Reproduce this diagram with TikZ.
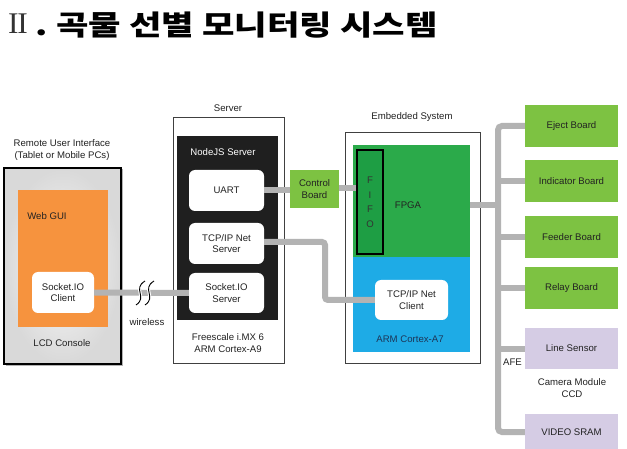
\documentclass[tikz,border=0pt]{standalone}
\usepackage{fontspec}
\setmainfont{Liberation Sans}
\newfontfamily\krfont{Noto Sans CJK KR}
\newfontfamily\romfont{Liberation Serif}
\usetikzlibrary{calc,shadows}
\definecolor{lgreen}{HTML}{7DC242}
\definecolor{fpgagreen}{HTML}{2BAA4A}
\definecolor{fifogreen}{HTML}{1E9E44}
\definecolor{armblue}{HTML}{1EABE6}
\definecolor{orangegui}{HTML}{F6933E}
\definecolor{lpurple}{HTML}{D5CCE4}
\definecolor{conngray}{HTML}{B3B3B3}
\definecolor{navytext}{HTML}{1D3557}
\definecolor{txt}{HTML}{222222}
\tikzset{
  lbl/.style={font=\fontsize{9.6}{11.5}\selectfont, text=txt, align=center, inner sep=0pt},
  wbox/.style={fill=white, rounded corners=6pt, minimum width=75pt, minimum height=41pt, lbl},
  board/.style={fill=lgreen, minimum width=93pt, minimum height=42pt, lbl},
  pboard/.style={fill=lpurple, minimum width=93pt, minimum height=41pt, lbl},
  frame/.style={draw=black!75, line width=0.8pt, fill=white, inner sep=0pt},
  conn/.style={draw=conngray, line width=6pt},
}
\begin{document}
\begin{tikzpicture}[x=1pt,y=-1pt]
\useasboundingbox[fill=white] (0,0) rectangle (627,449);

% title
\node[anchor=west, inner sep=0pt, font=\romfont\fontsize{30}{32}\selectfont, text=black!80, xscale=1.05] (t1) at (8,24) {I\kern-1.2pt I};
\node[anchor=west, inner sep=0pt, font=\krfont\bfseries\fontsize{28}{32}\selectfont, xscale=1.26] (t2) at (35,25) {.\hspace{7pt}곡물 선별 모니터링 시스템};

% remote user interface
\node[lbl] (rlbl) at (62,150) {Remote User Interface\\(Tablet or Mobile PCs)};
\node[draw=black, line width=2.5pt, inner color=white!98!black, outer color=black!15,
      minimum width=117pt, minimum height=196pt,
      drop shadow={shadow xshift=1.5pt, shadow yshift=-1.5pt, opacity=0.6}] (remote) at (62.5,266) {};
\node[fill=orangegui, minimum width=90pt, minimum height=137pt] (gui) at (63,258.5) {};
\node[lbl] (guilbl) at (47,216) {Web GUI};
\node[wbox, minimum width=62pt] (sockcli) at (63,292.5) {Socket.IO\\Client};
\node[lbl] (lcd) at (62,343) {LCD Console};

% server
\node[lbl] (srvlbl) at (228,108) {Server};
\node[frame, minimum width=111pt, minimum height=246pt] (server) at (228.5,240) {};
\node[fill=black!88, minimum width=101pt, minimum height=184pt] (node) at (227.5,228) {};
\node[lbl, text=white] (nodelbl) at (223,152) {NodeJS Server};
\node[wbox] (uart) at (226.5,190.5) {UART};
\node[wbox] (tcpsrv) at (226.5,243.5) {TCP/IP Net\\Server};
\node[wbox, minimum height=40pt] (socksrv) at (226.5,293) {Socket.IO\\Server};
\node[lbl] (imx) at (228,343) {Freescale i.MX 6\\ARM Cortex-A9};

% control board
\node[fill=lgreen, minimum width=49pt, minimum height=38pt, lbl] (ctrl) at (314.5,189) {Control\\Board};

% embedded system
\node[lbl] (emblbl) at (412,117) {Embedded System};
\node[frame, minimum width=135pt, minimum height=231pt] (emb) at (412.5,247.5) {};
\node[fill=fpgagreen, minimum width=117pt, minimum height=112pt] (fpga) at (411.5,201) {};
\node[fill=armblue, minimum width=117pt, minimum height=95pt] (arm) at (411.5,304.5) {};
\node[draw=black, line width=1.3pt, fill=fifogreen, minimum width=26pt, minimum height=104pt] (fifo) at (370,202) {};
\node[lbl, text=black!80] (fifolbl) at (370,202) {F\\[3pt]I\\[3pt]F\\[3pt]O};
\node[lbl] (fpgalbl) at (408,205) {FPGA};
\node[wbox, minimum width=73pt, minimum height=40pt] (tcpcli) at (411.5,300) {TCP/IP Net\\Client};
\node[lbl, text=navytext] (armlbl) at (410,339) {ARM Cortex-A7};

% boards
\node[board] (eject) at (571.5,126) {Eject Board};
\node[board] (indic) at (571.5,181.5) {Indicator Board};
\node[board] (feeder) at (571.5,237) {Feeder Board};
\node[board] (relay) at (571.5,288) {Relay Board};
\node[pboard] (line) at (571.5,348.5) {Line Sensor};
\node[lbl] (cam) at (572,388) {Camera Module\\CCD};
\node[pboard, minimum height=36pt] (sram) at (571.5,432) {VIDEO SRAM};
\node[lbl, anchor=west] (afe) at (503,362) {AFE};

% connectors
\draw[conn] (sockcli.east) -- (socksrv.west);
\draw[conn] (uart.east) -- (uart.east -| ctrl.west);
\draw[conn] ([yshift=1pt]ctrl.east) -- ([yshift=1pt]ctrl.east -| fifo.west);
\coordinate (tbend) at (325,0);
\draw[conn, rounded corners=3pt] ([yshift=1.5pt]tcpsrv.east) -| (tbend |- tcpcli.west) -- (tcpcli.west);
\coordinate (busx) at (498,0);
\draw[conn, rounded corners=4pt] (eject.west) -| (busx |- sram.west) -- (sram.west);
\draw[conn] ([yshift=-4pt]fpga.east) -- ([yshift=-4pt]fpga.east -| busx);
\draw[conn] (indic.west) -- (indic.west -| busx);
\draw[conn] (feeder.west) -- (feeder.west -| busx);
\draw[conn] (relay.west) -- (relay.west -| busx);
\draw[conn] (line.west) -- (line.west -| busx);

% wireless break
\foreach \dx in {0,9}{
  \draw[white, line width=3pt] (136+\dx,305) .. controls (148+\dx,297) and (132+\dx,289) .. (145+\dx,281);
  \draw[black, line width=0.9pt] (136+\dx,305) .. controls (148+\dx,297) and (132+\dx,289) .. (145+\dx,281);
}
\node[lbl] (wl) at (147,322) {wireless};
\end{tikzpicture}
\end{document}
